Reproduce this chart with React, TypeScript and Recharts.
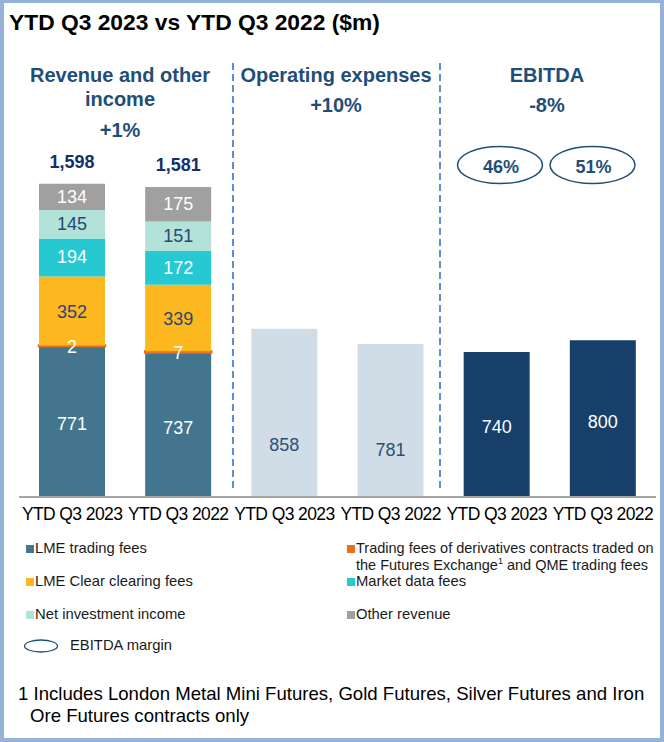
import React from 'react';
import { BarChart, Bar, XAxis, YAxis, LabelList, Cell } from 'recharts';

// YTD Q3 2023 vs YTD Q3 2022 ($m) - revenue build-up, opex, EBITDA

const CATEGORIES = ['YTD Q3 2023', 'YTD Q3 2022', 'YTD Q3 2023', 'YTD Q3 2022', 'YTD Q3 2023', 'YTD Q3 2022'];
const LME_TRADING = [771, 737, null, null, null, null];
const DERIV_TRADING = [2, 7, null, null, null, null];
const CLEARING = [352, 339, null, null, null, null];
const MARKET_DATA = [194, 172, null, null, null, null];
const NET_INVEST = [145, 151, null, null, null, null];
const OTHER_REV = [134, 175, null, null, null, null];
const TOTALS = [1598, 1581, null, null, null, null];
const OPEX = [null, null, 858, 781, null, null];
const EBITDA = [null, null, null, null, 740, 800];
const MARGINS = ['46%', '51%'];

const FONT = '"Liberation Sans", Arial, Helvetica, sans-serif';
const NAVY = '#1f4e79';
const BORDER = '#95b3d7';

const C = {
  lme: '#44758e',
  deriv: '#e8701a',
  clearing: '#fdb71f',
  market: '#26c8d2',
  invest: '#b3e3d8',
  other: '#a0a0a0',
  opex: '#d1dde6',
  ebitda: '#16406a',
};

const data = CATEGORIES.map((label, i) => ({
  id: i,
  label,
  lme: LME_TRADING[i],
  deriv: DERIV_TRADING[i],
  clearing: CLEARING[i],
  market: MARKET_DATA[i],
  invest: NET_INVEST[i],
  other: OTHER_REV[i],
  total: TOTALS[i],
  opex: OPEX[i],
  ebitda: EBITDA[i],
}));

function valueLabel(color: string, frac = 0.5, shift = 0) {
  return (props: any) => {
    const { x, y, width, height, value } = props;
    if (value == null || value === 0) return null;
    return (
      <text
        x={x + width / 2}
        y={y + height * frac + shift}
        textAnchor="middle"
        dominantBaseline="central"
        fill={color}
        fontSize={18}
        fontFamily={FONT}
      >
        {value}
      </text>
    );
  };
}

function totalLabel(props: any) {
  const { x, y, width, value } = props;
  if (value == null) return null;
  return (
    <text
      x={x + width / 2}
      y={y - 22}
      textAnchor="middle"
      dominantBaseline="central"
      fill="#14306a"
      fontSize={18}
      fontWeight="bold"
      fontFamily={FONT}
    >
      {value.toLocaleString('en-US')}
    </text>
  );
}

const header: React.CSSProperties = {
  position: 'absolute',
  color: NAVY,
  fontWeight: 'bold',
  fontSize: 20,
  textAlign: 'center',
  lineHeight: '24px',
};

const legendItems = [
  { color: C.lme, text: 'LME trading fees', x: 26, y: 549 },
  { color: C.deriv, text: 'deriv', x: 347, y: 549 },
  { color: C.clearing, text: 'LME Clear clearing fees', x: 26, y: 582 },
  { color: C.market, text: 'Market data fees', x: 347, y: 582 },
  { color: C.invest, text: 'Net investment income', x: 26, y: 615 },
  { color: C.other, text: 'Other revenue', x: 347, y: 615 },
];

export default function App() {
  return (
    <div
      style={{
        position: 'absolute',
        left: 0,
        top: 0,
        width: 664,
        height: 742,
        background: '#fff',
        fontFamily: FONT,
        overflow: 'hidden',
      }}
    >
      <div
        style={{
          position: 'absolute',
          left: 0,
          top: 0,
          width: 664,
          height: 742,
          boxSizing: 'border-box',
          borderStyle: 'solid',
          borderColor: BORDER,
          borderWidth: '3px 4px 4px 4px',
        }}
      />
      <div style={{ position: 'absolute', left: 9, top: 9, fontSize: 22.8, fontWeight: 'bold', color: '#000' }}>
        YTD Q3 2023 vs YTD Q3 2022 ($m)
      </div>

      <div style={{ ...header, left: 20, width: 200, top: 63 }}>
        Revenue and other
        <br />
        income
      </div>
      <div style={{ ...header, left: 20, width: 200, top: 118 }}>+1%</div>
      <div style={{ ...header, left: 236, width: 200, top: 63 }}>Operating expenses</div>
      <div style={{ ...header, left: 236, width: 200, top: 93 }}>+10%</div>
      <div style={{ ...header, left: 447, width: 200, top: 63 }}>EBITDA</div>
      <div style={{ ...header, left: 447, width: 200, top: 93 }}>-8%</div>

      <svg width={664} height={742} style={{ position: 'absolute', left: 0, top: 0 }}>
        <line x1={233} y1={63} x2={233} y2={490} stroke="#5b8fd0" strokeWidth={2} strokeDasharray="7 4" />
        <line x1={440} y1={63} x2={440} y2={490} stroke="#5b8fd0" strokeWidth={2} strokeDasharray="7 4" />
        {MARGINS.map((m, i) => (
          <g key={i}>
            <ellipse cx={500 + i * 92.5} cy={165} rx={42.5} ry={18.5} fill="none" stroke={NAVY} strokeWidth={1.5} />
            <text
              x={501 + i * 92.5}
              y={167}
              textAnchor="middle"
              dominantBaseline="central"
              fill={NAVY}
              fontSize={18}
              fontWeight="bold"
              fontFamily={FONT}
            >
              {m}
            </text>
          </g>
        ))}
      </svg>

      <div style={{ position: 'absolute', left: 0, top: 0 }}>
        <BarChart width={664} height={742} data={data} margin={{ top: 105, right: 8, left: 19, bottom: 215 }} barSize={66}>
          <XAxis
            dataKey="id"
            height={30}
            tickFormatter={(i: number) => CATEGORIES[i]}
            axisLine={{ stroke: '#a6a6a6', strokeWidth: 2 }}
            tickLine={false}
            interval={0}
            tick={{ fill: '#000', fontSize: 17.5, fontFamily: FONT, dy: 3, letterSpacing: -0.6 }}
          />
          <YAxis hide domain={[0, 2000]} />
          <Bar dataKey="lme" stackId="a" fill={C.lme} isAnimationActive={false}>
            <LabelList dataKey="lme" content={valueLabel('#fff', 0.5, 3)} />
          </Bar>
          <Bar dataKey="deriv" stackId="a" fill={C.deriv} isAnimationActive={false}>
            {data.map((d, i) => (
              <Cell key={i} stroke={d.deriv ? C.deriv : 'none'} strokeWidth={2.5} />
            ))}
            <LabelList dataKey="deriv" content={valueLabel('#fff', 0.5, 1)} />
          </Bar>
          <Bar dataKey="clearing" stackId="a" fill={C.clearing} isAnimationActive={false}>
            <LabelList dataKey="clearing" content={valueLabel('#2a4676', 0.5, 1)} />
          </Bar>
          <Bar dataKey="market" stackId="a" fill={C.market} isAnimationActive={false}>
            <LabelList dataKey="market" content={valueLabel('#fff')} />
          </Bar>
          <Bar dataKey="invest" stackId="a" fill={C.invest} isAnimationActive={false}>
            <LabelList dataKey="invest" content={valueLabel('#2a4676')} />
          </Bar>
          <Bar dataKey="other" stackId="a" fill={C.other} isAnimationActive={false}>
            <LabelList dataKey="other" content={valueLabel('#fff')} />
            <LabelList dataKey="total" content={totalLabel} />
          </Bar>
          <Bar dataKey="opex" stackId="a" fill={C.opex} isAnimationActive={false}>
            <LabelList dataKey="opex" content={valueLabel('#2e4f7c', 0.69)} />
          </Bar>
          <Bar dataKey="ebitda" stackId="a" fill={C.ebitda} isAnimationActive={false}>
            <LabelList dataKey="ebitda" content={valueLabel('#fff', 0.5, 3)} />
          </Bar>
        </BarChart>
      </div>

      {legendItems.map((it, i) => (
        <div
          key={i}
          style={{
            position: 'absolute',
            left: it.x,
            top: it.y - 9,
            fontSize: 14.8,
            lineHeight: '17px',
            color: '#1a1a1a',
            whiteSpace: 'nowrap',
          }}
        >
          <span
            style={{
              display: 'inline-block',
              width: 8,
              height: 8,
              background: it.color,
              marginRight: 1,
              verticalAlign: 'baseline',
            }}
          />
          {it.text === 'deriv' ? (
            <span style={{ fontSize: 14.5 }}>
              Trading fees of derivatives contracts traded on
              <br />
              <span style={{ paddingLeft: 9 }}>
                the Futures Exchange<sup style={{ fontSize: 9, lineHeight: 0 }}>1</sup> and QME trading fees
              </span>
            </span>
          ) : (
            it.text
          )}
        </div>
      ))}
      <svg width={40} height={20} style={{ position: 'absolute', left: 22, top: 636 }}>
        <ellipse cx={19} cy={10} rx={16.5} ry={6} fill="none" stroke={NAVY} strokeWidth={1.3} />
      </svg>
      <div style={{ position: 'absolute', left: 70, top: 637, fontSize: 14.8, color: '#1a1a1a' }}>EBITDA margin</div>

      <div style={{ position: 'absolute', left: 18, top: 683, fontSize: 18.6, lineHeight: '22px', color: '#000' }}>
        1 Includes London Metal Mini Futures, Gold Futures, Silver Futures and Iron
        <br />
        <span style={{ paddingLeft: 12 }}>Ore Futures contracts only</span>
      </div>
    </div>
  );
}
